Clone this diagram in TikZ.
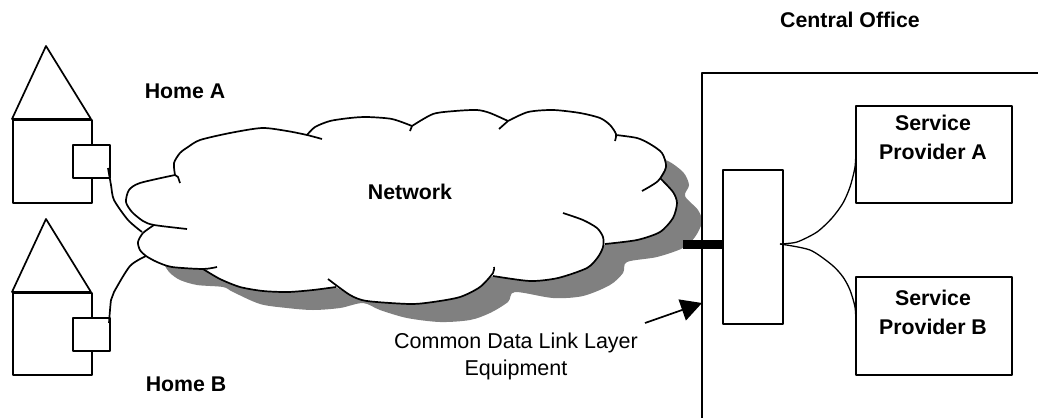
\documentclass[tikz,border=0pt]{standalone}
\usepackage{fontspec}
\setmainfont{Liberation Sans}
\usetikzlibrary{arrows.meta}
\tikzset{
  every picture/.style={x=1pt,y=-1pt,line width=1.7pt,line join=round},
  boxn/.style={draw,fill=white,rectangle,inner sep=0pt,anchor=north west},
  lbl/.style={font=\fontsize{21.3}{29}\selectfont\bfseries,align=center,inner sep=0pt},
  lblr/.style={font=\fontsize{21.5}{27}\selectfont,align=center,inner sep=0pt},
  outline/.style={smooth,tension=0.45},
  thinlink/.style={line width=1.3pt},
}
\begin{document}
\begin{tikzpicture}
\useasboundingbox (0,0) rectangle (1038,418);
% houses
\draw (12,119) -- (46,46) -- (91,119) -- cycle;
\node[boxn,minimum width=79pt,minimum height=83pt] (bodyA) at (12,119) {};
\node[boxn,minimum width=37pt,minimum height=33pt] (boxA) at (72,144) {};
\draw (12,292) -- (46,219) -- (91,292) -- cycle;
\node[boxn,minimum width=79pt,minimum height=82pt] (bodyB) at (12,292) {};
\node[boxn,minimum width=37pt,minimum height=33pt] (boxB) at (72,317) {};
% shadow
\fill[black!50] plot[smooth,tension=0.5] coordinates {(655,170)(665,160)(683,172)(689,185)(685,196)(698,210)(702,222)(695,237)(683,248)(657,257)(627,262)(623,273)(610,285)(583,296)(553,298)(515,292)(508,302)(490,313)(470,320)(440,322)(407,318)(380,310)(363,303)(340,308)(313,310)(287,308)(260,304)(233,292)(223,287)(197,285)(180,280)(170,273)(165,266)} -- cycle;
% cloud fill
\fill[white] plot[smooth cycle,tension=0.3] coordinates {(175,175)(174,163)(180,153)(188,147)(200,140)(230,133)(262,128)(287,131)(307,135)(315,127)(330,121)(350,118)(367,117)(392,119)(412,126)(433,114)(455,111)(477,110)(490,113)(508,121)(528,112)(553,110)(580,113)(600,118)(610,125)(616,135)(637,138)(650,144)(662,153)(666,167)(660,178)(673,192)(677,203)(673,218)(660,232)(637,240)(605,244)(598,257)(587,268)(558,278)(530,281)(493,276)(480,287)(460,297)(433,302)(410,304)(367,301)(350,295)(335,287)(313,290)(288,292)(263,291)(240,287)(220,279)(203,269)(172,267)(157,262)(146,256)(140,250)(138,242)(143,233)(154,225)(143,221)(132,212)(126,202)(129,190)(140,183)};
% cloud outline
\draw plot[outline] coordinates {(187,229)(154,225)(143,221)(132,212)(126,202)(129,190)(140,183)(175,175)};
\draw (175,175) -- (178,177) -- (180,183);
\draw plot[outline] coordinates {(175,175)(174,163)(180,153)(188,147)(200,140)(230,133)(262,128)(287,131)(307,135)(322,139)};
\draw plot[outline] coordinates {(307,135)(315,127)(330,121)(350,118)(367,117)(392,119)(412,126)};
\draw (412,126) -- (410,131);
\draw plot[outline] coordinates {(412,126)(433,114)(455,111)(477,110)(490,113)(508,121)};
\draw (508,121) -- (499,129);
\draw plot[outline] coordinates {(508,121)(528,112)(553,110)(580,113)(600,118)(610,125)(616,134)(615,141)};
\draw plot[outline] coordinates {(616,135)(637,138)(650,144)(662,153)(666,167)(658,181)(642,191)};
\draw plot[outline] coordinates {(660,178)(673,192)(677,203)(673,218)(660,232)(637,240)(605,244)};
\draw plot[outline] coordinates {(563,213)(583,220)(597,228)(603,237)(603,247)(598,257)(587,268)(558,278)(530,281)(493,276)};
\draw plot[outline] coordinates {(494,267)(493,273)(480,287)(460,297)(433,302)(410,304)(367,301)(350,295)(328,279)};
\draw plot[outline] coordinates {(336,287)(313,290)(288,292)(263,291)(240,287)(220,279)(203,269)};
\draw plot[outline] coordinates {(217,267)(203,269)(172,267)(157,262)(146,256)(140,250)(138,242)(143,233)(154,225)};
% attachment points
\coordinate (cloudA) at (142,232);
\coordinate (cloudB) at (146,256);
\coordinate (startA) at (108,168);
\coordinate (startB) at (109,323);
\draw plot[outline] coordinates {(startA)(111,185)(114,200)(128,220)(cloudA)};
\draw plot[outline] coordinates {(startB)(111,300)(114,292)(130,266)(cloudB)};
% central office
\draw (1038,73) -- (702,73) coordinate (coTL) -- (702,418);
\node[boxn,minimum width=60pt,minimum height=154pt] (equip) at (722,169) {};
\node[boxn,minimum width=156pt,minimum height=97pt] (spA) at (855,105) {};
\node[boxn,minimum width=156pt,minimum height=98pt] (spB) at (855,276) {};
\coordinate (hub) at (780,244);
\coordinate (spAin) at (856,148);
\coordinate (spBin) at (856,323);
\draw[thinlink] plot[outline] coordinates {(hub)(797,242)(817,232)(832,218)(843,203)(850,187)(855,167)(spAin)};
\draw[thinlink] plot[outline] coordinates {(hub)(810,250)(832,265)(843,277)(850,290)(855,307)(spBin)};
\coordinate (linkstart) at (683,244.5);
\draw[line width=9pt] (linkstart) -- (equip.west |- linkstart);
\coordinate (arrowfrom) at (645,323);
\coordinate (arrowto) at (702,303);
\draw[-{Triangle[length=21pt,width=22pt]}] (arrowfrom) -- (arrowto);
% labels
\node[lbl] (tco) at (850,20) {Central Office};
\node[lbl] (tha) at (185,91) {Home A};
\node[lbl] (thb) at (186,384) {Home B};
\node[lbl] (tnet) at (410,192) {Network};
\node[lbl] (tspa) at (933,137.5) {Service\\Provider A};
\node[lbl] (tspb) at (933,312) {Service\\Provider B};
\node[lblr] (tcd) at (516,356) {Common Data Link Layer\\Equipment};
\end{tikzpicture}
\end{document}
